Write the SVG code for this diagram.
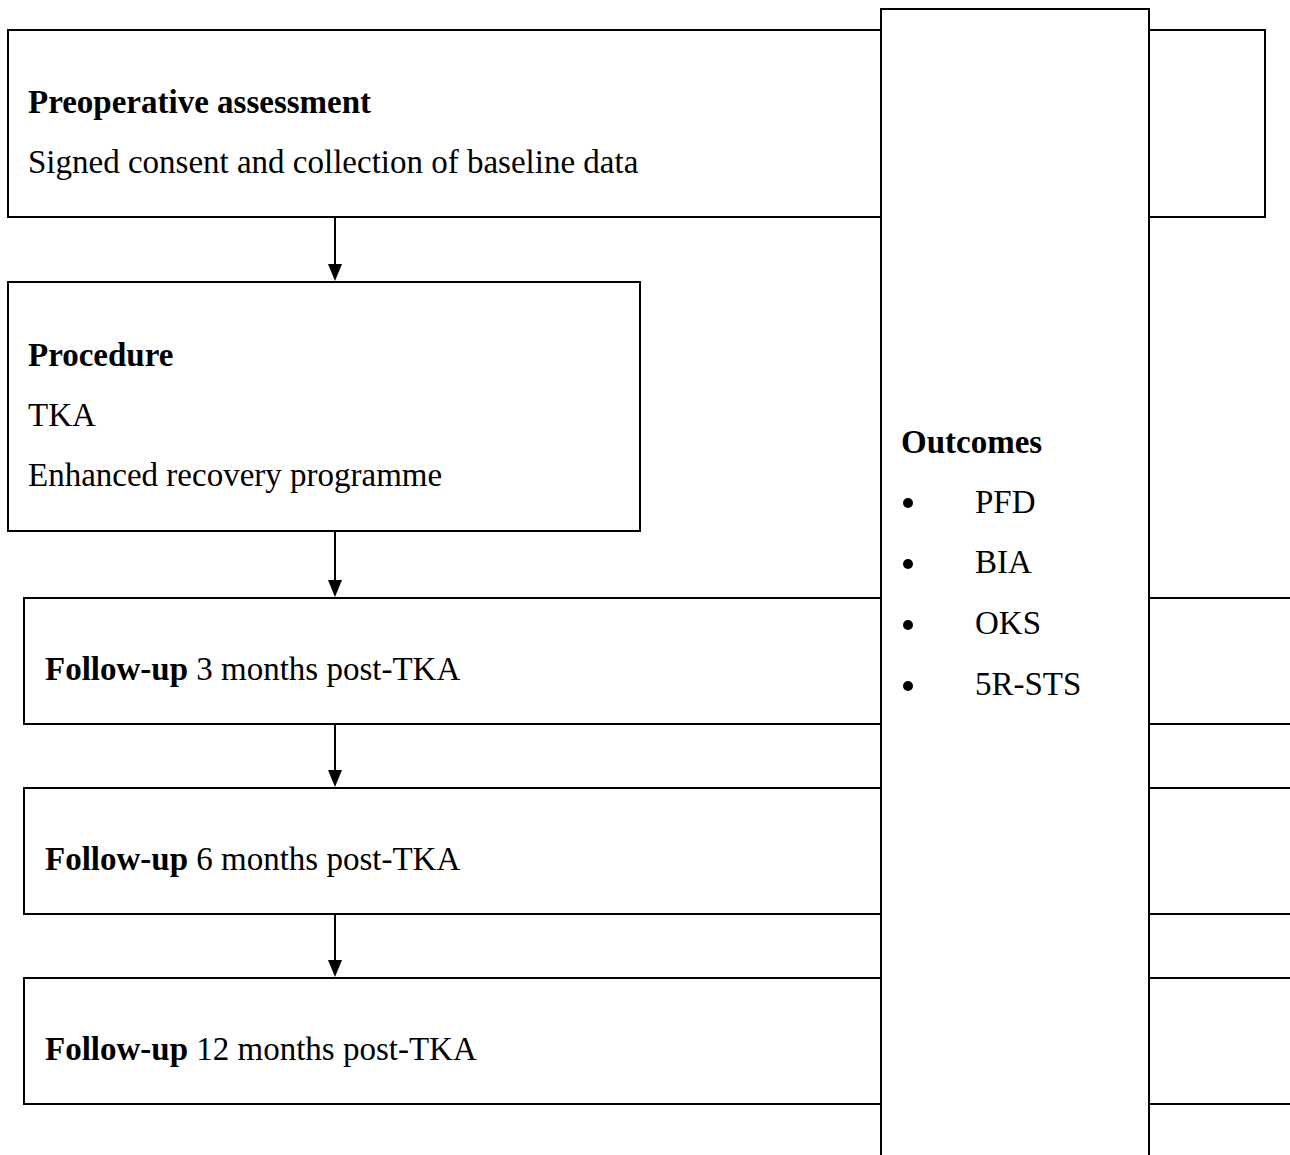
<svg xmlns="http://www.w3.org/2000/svg" width="1290" height="1155" viewBox="0 0 1290 1155">
  <style>
    .box { fill: #fff; stroke: #000; stroke-width: 2; }
    .t { font-family: "Liberation Serif", "Times New Roman", serif; font-size: 33px; fill: #000; }
    .b { font-weight: bold; }
    .conn { stroke: #000; stroke-width: 2; fill: none; }
    .head { fill: #000; }
  </style>
  <rect width="1290" height="1155" fill="#fff"/>

  <g id="preoperative">
    <rect class="box" x="8" y="30" width="1257" height="187"/>
    <text class="t b" x="28" y="113">Preoperative assessment</text>
    <text class="t" x="28" y="173">Signed consent and collection of baseline data</text>
  </g>

  <g id="procedure">
    <rect class="box" x="8" y="282" width="632" height="249"/>
    <text class="t b" x="28" y="366">Procedure</text>
    <text class="t" x="28" y="426">TKA</text>
    <text class="t" x="28" y="486">Enhanced recovery programme</text>
  </g>

  <g id="followup-3">
    <rect class="box" x="24" y="598" width="1280" height="126"/>
    <text class="t" x="45" y="680"><tspan class="b">Follow-up</tspan> 3 months post-TKA</text>
  </g>

  <g id="followup-6">
    <rect class="box" x="24" y="788" width="1280" height="126"/>
    <text class="t" x="45" y="870"><tspan class="b">Follow-up</tspan> 6 months post-TKA</text>
  </g>

  <g id="followup-12">
    <rect class="box" x="24" y="978" width="1280" height="126"/>
    <text class="t" x="45" y="1060"><tspan class="b">Follow-up</tspan> 12 months post-TKA</text>
  </g>

  <g id="outcomes">
    <rect class="box" x="881" y="9" width="268" height="1160"/>
    <text class="t b" x="901" y="453">Outcomes</text>
    <g fill="#000">
      <circle cx="908" cy="503" r="5"/>
      <circle cx="908" cy="564" r="5"/>
      <circle cx="908" cy="625" r="5"/>
      <circle cx="908" cy="686" r="5"/>
    </g>
    <text class="t" x="975" y="513">PFD</text>
    <text class="t" x="975" y="573">BIA</text>
    <text class="t" x="975" y="634">OKS</text>
    <text class="t" x="975" y="695">5R-STS</text>
  </g>

  <g id="connectors">
    <line class="conn" x1="335" y1="217" x2="335" y2="266"/>
    <path class="head" d="M328,264 L342,264 L335,281 Z"/>
    <line class="conn" x1="335" y1="531" x2="335" y2="582"/>
    <path class="head" d="M328,580 L342,580 L335,597 Z"/>
    <line class="conn" x1="335" y1="724" x2="335" y2="772"/>
    <path class="head" d="M328,770 L342,770 L335,787 Z"/>
    <line class="conn" x1="335" y1="914" x2="335" y2="962"/>
    <path class="head" d="M328,960 L342,960 L335,977 Z"/>
  </g>
</svg>
